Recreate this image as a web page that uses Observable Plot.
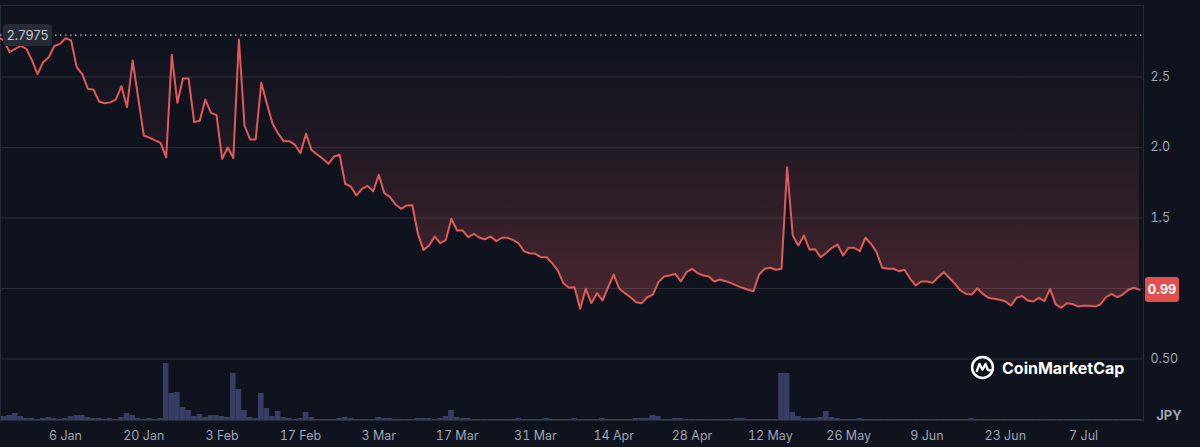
<!DOCTYPE html>
<html>
<head>
<meta charset="utf-8">
<script src="https://cdn.jsdelivr.net/npm/d3@7"></script>
<script src="https://cdn.jsdelivr.net/npm/@observablehq/plot@0.6"></script>
<style>
  html, body { margin: 0; padding: 0; background: #0e131e; }
  #wrap { position: relative; width: 1200px; height: 447px; background: #0e131e; overflow: hidden; font-family: Inter, "Noto Sans", sans-serif; }
  #wrap > svg { position: absolute; left: 0; top: 0; }
  .tag { position: absolute; font-family: Inter, sans-serif; box-sizing: border-box; display: flex; align-items: center; justify-content: center; }
</style>
</head>
<body>
<div id="wrap"></div>
<script>
// ---- data (daily, from 25 Dec 2024) ----
const startDay = Date.UTC(2024, 11, 25);
const prices = [
  2.78,2.76,2.676,2.70,2.72,2.70,2.62,2.52,2.605,2.64,
  2.72,2.735,2.775,2.76,2.57,2.52,2.416,2.41,2.326,2.314,
  2.32,2.34,2.435,2.286,2.617,2.35,2.085,2.07,2.05,2.033,
  1.93,2.657,2.317,2.49,2.49,2.18,2.19,2.34,2.246,2.23,
  1.92,2.0,1.925,2.766,2.156,2.057,2.057,2.46,2.31,2.17,
  2.10,2.045,2.045,2.02,1.96,2.097,1.98,1.95,1.92,1.884,
  1.936,1.948,1.743,1.723,1.66,1.707,1.728,1.69,1.806,1.676,
  1.648,1.596,1.565,1.589,1.59,1.388,1.274,1.305,1.369,1.321,
  1.345,1.494,1.411,1.411,1.364,1.388,1.36,1.35,1.369,1.336,
  1.36,1.36,1.345,1.321,1.262,1.25,1.246,1.222,1.222,1.18,
  1.128,1.038,1.005,1.009,0.856,0.998,0.896,0.967,0.915,1.009,
  1.099,0.998,0.967,0.938,0.903,0.896,0.938,0.957,1.045,1.085,
  1.092,1.104,1.05,1.116,1.14,1.109,1.092,1.085,1.05,1.064,
  1.052,1.038,1.021,1.005,0.991,0.981,1.099,1.14,1.147,1.133,
  1.14,1.86,1.376,1.305,1.376,1.276,1.278,1.222,1.254,1.289,
  1.312,1.234,1.289,1.289,1.265,1.36,1.317,1.257,1.147,1.14,
  1.14,1.123,1.133,1.069,1.021,1.05,1.05,1.04,1.08,1.116,
  1.076,1.033,0.986,0.962,0.957,1.002,0.962,0.934,0.927,0.92,
  0.91,0.879,0.934,0.946,0.915,0.908,0.934,0.91,0.998,0.887,
  0.863,0.896,0.891,0.872,0.877,0.877,0.872,0.887,0.938,0.962,
  0.938,0.957,0.991,1.005,0.99
];
const volumes = [
  3,4,5,7,4,2,2,1,2,3,
  2,1,2,4,5,5,3,2,2,1,
  2,1,3,7,5,2,1,2,1,2,
  57,27,28,13,10,4,6,3,5,5,
  4,3,47,31,10,3,2,27,12,4,
  9,3,2,1,2,8,3,1,1,1,
  1,2,3,2,1,1,1,1,3,2,
  2,1,1,1,1,2,2,2,1,2,
  4,10,3,2,2,1,1,1,1,1,
  1,1,1,2,1,1,1,1,2,1,
  1,1,1,2,1,1,1,1,2,1,
  1,1,1,1,2,2,2,5,4,1,
  1,2,2,1,1,1,1,1,1,1,
  1,1,2,2,1,1,1,1,1,1,
  47,47,8,4,2,2,2,3,9,3,
  2,1,1,1,2,1,1,1,1,1,
  1,1,1,1,1,1,1,1,1,1,
  1,1,1,1,2,1,1,1,1,1,
  1,1,1,1,1,1,1,1,1,1,
  1,1,1,1,1,1,1,1,1,1,
  1,1,1,1,1
];
const refPrice = 2.7975;
const lastPrice = 0.99;
const yTicks = [0.5, 1.5, 2.0, 2.5];
const yGrid = [0.5, 1.0, 1.5, 2.0, 2.5];
const xTickLabels = ["6 Jan","20 Jan","3 Feb","17 Feb","3 Mar","17 Mar","31 Mar","14 Apr","28 Apr","12 May","26 May","9 Jun","23 Jun","7 Jul"];

const DAY = 864e5;
const data = prices.map((p, i) => ({ date: new Date(startDay + i * DAY), price: p, volume: volumes[i] }));
const xTicks = xTickLabels.map(s => d3.utcParse("%d %b %Y")(s + " 2025"));
const xDomain = [new Date(startDay + 0.38 * DAY), new Date(startDay + 204.71 * DAY)];

const W = 1200, H = 447;
const common = { width: W, height: H, marginLeft: 0, marginRight: 57, marginTop: 5, marginBottom: 27 };
const wrap = document.getElementById("wrap");

// ---- volume layer ----
const vol = Plot.plot({
  ...common,
  style: { background: "transparent" },
  x: { type: "utc", domain: xDomain, axis: null },
  y: { domain: [0, 415], axis: null },
  marks: [
    Plot.rectY(data, {
      x1: d => new Date(+d.date - DAY / 2),
      x2: d => new Date(+d.date + DAY / 2),
      y: "volume",
      fill: "#3a3f67",
      fillOpacity: 0.95,
      clip: true
    })
  ]
});
wrap.appendChild(vol);

// ---- price layer ----
const price = Plot.plot({
  ...common,
  style: { background: "transparent", color: "#9ea4b3", fontFamily: "Inter, sans-serif", fontSize: "12.5px" },
  x: { type: "utc", domain: xDomain, label: null },
  y: { domain: [0.064, 3.007], label: null },
  marks: [
    Plot.frame({ stroke: "#262b39" }),
    Plot.gridY(yGrid, { stroke: "#2a2f3e", strokeOpacity: 1 }),
    Plot.ruleY([refPrice], { stroke: "#b8bcc6", strokeDasharray: "1.5,3.5", strokeWidth: 1.3 }),
    Plot.areaY(data, { x: "date", y1: "price", y2: () => refPrice, fill: "url(#redfade)", clip: true }),
    Plot.line(data, { x: "date", y: "price", stroke: "#e05a5a", strokeWidth: 2, clip: true, strokeLinejoin: "round" }),
    Plot.axisY(yTicks, { anchor: "right", label: null, tickSize: 0, tickPadding: 7, tickFormat: d => d === 0.5 ? "0.50" : d.toFixed(1) }),
    Plot.axisX(xTicks, { label: null, tickSize: 0, tickPadding: 11, tickFormat: d3.utcFormat("%-d %b") })
  ]
});
d3.select(price).insert("defs", ":first-child").html(
  `<linearGradient id="redfade" x1="0" y1="0" x2="0" y2="1">
     <stop offset="0" stop-color="#e05a5a" stop-opacity="0.0"/>
     <stop offset="0.35" stop-color="#e05a5a" stop-opacity="0.07"/>
     <stop offset="1" stop-color="#e05a5a" stop-opacity="0.28"/>
   </linearGradient>`);
wrap.appendChild(price);

const ys = price.scale("y");
const xs = price.scale("x");

// reference price tag (top-left)
const ref = document.createElement("div");
ref.className = "tag";
ref.textContent = refPrice.toFixed(4);
Object.assign(ref.style, { left: "3px", top: (ys.apply(refPrice) - 11) + "px", width: "49px", height: "22px",
  background: "#272b36", color: "#c3c7d0", fontSize: "13px", borderRadius: "4px" });
wrap.appendChild(ref);

// last price tag (right)
const lp = document.createElement("div");
lp.className = "tag";
lp.textContent = lastPrice.toFixed(2);
Object.assign(lp.style, { left: (xs.range[1] + 2) + "px", top: (ys.apply(lastPrice) - 12.5) + "px", width: "34px", height: "25px",
  background: "#e0504f", color: "#ffffff", fontSize: "12.5px", fontWeight: "700", borderRadius: "3px" });
wrap.appendChild(lp);

// currency label
const cur = document.createElement("div");
cur.className = "tag";
cur.textContent = "JPY";
Object.assign(cur.style, { left: "1152px", top: "406px", width: "34px", height: "18px", color: "#9ea4b3", fontSize: "13px", fontWeight: "700" });
wrap.appendChild(cur);

// watermark logo
const logo = document.createElement("div");
Object.assign(logo.style, { position: "absolute", left: "970px", top: "355px", display: "flex", alignItems: "center", gap: "7px",
  color: "#ffffff", fontFamily: "Inter, sans-serif", fontWeight: "700", fontSize: "16px" });
logo.innerHTML = `<svg width="25" height="25" viewBox="0 0 24 24"><circle cx="12" cy="12" r="10" fill="none" stroke="#fff" stroke-width="2.4"/>
  <path d="M6.5 15.5 L9 8.5 L12 14 L15 8.5 L16.5 13 Q17.5 15.5 19.5 14.5" fill="none" stroke="#fff" stroke-width="2.2" stroke-linejoin="round" stroke-linecap="round"/></svg><span>CoinMarketCap</span>`;
wrap.appendChild(logo);
</script>
</body>
</html>
